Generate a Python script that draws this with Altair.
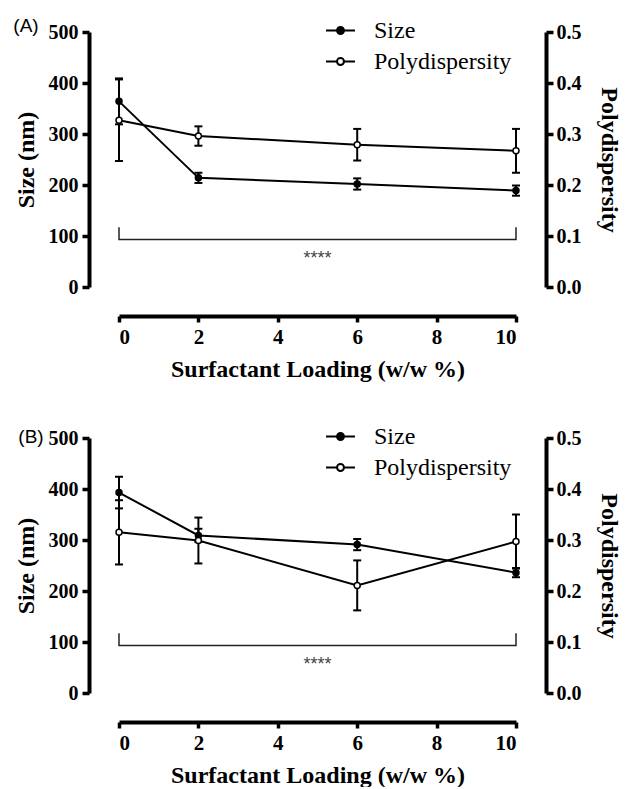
import altair as alt
import pandas as pd

# ---- data ----
loading = [0, 2, 6, 10]
x_ticks = [0, 2, 4, 6, 8, 10]
size_ticks = [0, 100, 200, 300, 400, 500]
pdi_ticks = [0.0, 0.1, 0.2, 0.3, 0.4, 0.5]

A_size = [364, 214, 202, 189]
A_size_err = [45, 10, 11, 10]
A_pdi = [0.327, 0.296, 0.279, 0.267]
A_pdi_err = [0.080, 0.019, 0.031, 0.043]

B_size = [393, 309, 291, 236]
B_size_err = [31, 13, 11, 9]
B_pdi = [0.315, 0.299, 0.211, 0.297]
B_pdi_err = [0.063, 0.045, 0.049, 0.053]

bracket_x = [0, 0, 10, 10]
bracket_y = [117, 93, 93, 117]
stars_x = [5]
stars_y = [55]
stars_text = ["****"]

series_names = ["Size", "Polydispersity"]

SERIF = "Liberation Serif, Times New Roman, serif"
SANS = "Liberation Sans, Arial, sans-serif"

LEGEND_PATH = ("M-1,0H-0.24M0.24,0H1"
               "M-0.24,0A0.24,0.24 0 1,0 0.24,0A0.24,0.24 0 1,0 -0.24,0Z")

fill_scale = alt.Scale(domain=series_names, range=["black", "white"])


def make_legend():
    return alt.Legend(
        orient="none", legendX=206, legendY=-17, title=None,
        symbolType=LEGEND_PATH, symbolSize=841, symbolStrokeColor="black",
        symbolStrokeWidth=2, labelFont=SERIF, labelFontSize=24,
        labelFontWeight="normal", labelColor="black", labelOffset=18,
        rowPadding=3,
    )


def panel(label, size, size_err, pdi, pdi_err, lab_dx, lab_dy):
    sdf = pd.DataFrame({
        "x": loading, "y": size,
        "lo": [v - e for v, e in zip(size, size_err)],
        "hi": [v + e for v, e in zip(size, size_err)],
        "series": "Size",
    })
    pdf = pd.DataFrame({
        "x": loading, "y": pdi,
        "lo": [v - e for v, e in zip(pdi, pdi_err)],
        "hi": [v + e for v, e in zip(pdi, pdi_err)],
        "series": "Polydispersity",
    })
    bdf = pd.DataFrame({"x": bracket_x, "y": bracket_y, "i": list(range(len(bracket_x)))})
    tdf = pd.DataFrame({"x": stars_x, "y": stars_y, "t": stars_text})
    ldf = pd.DataFrame({"t": [label]})

    xs = alt.Scale(domain=[0, 10], nice=False, zero=False)
    ys = alt.Scale(domain=[0, 500], nice=False)
    ps = alt.Scale(domain=[0, 0.5], nice=False)

    x_axis = alt.Axis(values=x_ticks, title="Surfactant Loading (w/w %)", offset=29,
                      labelFontSize=21, tickSize=6, labelPadding=4, titlePadding=10)
    s_axis = alt.Axis(values=size_ticks, title="Size (nm)", offset=30, orient="left",
                      tickSize=7, labelPadding=4, titlePadding=10)
    p_axis = alt.Axis(values=pdi_ticks, format=".1f", title="Polydispersity", offset=30,
                      orient="right", tickSize=7, labelPadding=3, titlePadding=15)

    X = alt.X("x:Q", scale=xs, axis=x_axis)

    def SY(f):
        return alt.Y(f, type="quantitative", scale=ys, axis=s_axis)

    def PY(f):
        return alt.Y(f, type="quantitative", scale=ps, axis=p_axis)

    # ---- Size layer (left axis) ----
    sb = alt.Chart(sdf)
    s_line = sb.mark_line(color="black", strokeWidth=2).encode(x=X, y=SY("y"))
    s_rule = sb.mark_rule(color="black", strokeWidth=2).encode(x=X, y=SY("lo"), y2="hi:Q")
    s_cap_hi = sb.mark_rule(color="black", strokeWidth=2, xOffset=-4, x2Offset=4).encode(
        x=X, x2="x:Q", y=SY("hi"))
    s_cap_lo = sb.mark_rule(color="black", strokeWidth=2, xOffset=-4, x2Offset=4).encode(
        x=X, x2="x:Q", y=SY("lo"))
    s_pt = sb.mark_circle(size=36, stroke="black", strokeWidth=1.5, opacity=1).encode(
        x=X, y=SY("y"),
        fill=alt.Fill("series:N", scale=fill_scale, legend=make_legend()))
    bracket = alt.Chart(bdf).mark_line(color="#222", strokeWidth=1.5).encode(
        x=X, y=SY("y"), order="i:Q")
    stars = alt.Chart(tdf).mark_text(font=SANS, fontSize=18, color="#444",
                                      baseline="middle").encode(
        x=X, y=SY("y"), text="t:N")
    lab = alt.Chart(ldf).mark_text(font=SANS, fontSize=19, color="black",
                                    align="center", baseline="middle").encode(
        x=alt.value(lab_dx), y=alt.value(lab_dy), text="t:N")

    size_layer = alt.layer(s_line, bracket, stars, s_rule, s_cap_hi, s_cap_lo, s_pt, lab)

    # ---- Polydispersity layer (right axis) ----
    pb = alt.Chart(pdf)
    p_line = pb.mark_line(color="black", strokeWidth=2).encode(x=X, y=PY("y"))
    p_rule = pb.mark_rule(color="black", strokeWidth=2).encode(x=X, y=PY("lo"), y2="hi:Q")
    p_cap_hi = pb.mark_rule(color="black", strokeWidth=2, xOffset=-4, x2Offset=4).encode(
        x=X, x2="x:Q", y=PY("hi"))
    p_cap_lo = pb.mark_rule(color="black", strokeWidth=2, xOffset=-4, x2Offset=4).encode(
        x=X, x2="x:Q", y=PY("lo"))
    p_pt = pb.mark_circle(size=36, stroke="black", strokeWidth=1.5, opacity=1).encode(
        x=X, y=PY("y"),
        fill=alt.Fill("series:N", scale=fill_scale, legend=make_legend()))

    pdi_layer = alt.layer(p_line, p_rule, p_cap_hi, p_cap_lo, p_pt)

    return alt.layer(size_layer, pdi_layer).resolve_scale(y="independent").properties(
        width=397, height=255)


pA = panel("(A)", A_size, A_size_err, A_pdi, A_pdi_err, -93, -6)
pB = panel("(B)", B_size, B_size_err, B_pdi, B_pdi_err, -88, -1)

chart = alt.vconcat(pA, pB, spacing=40).resolve_scale(
    fill="independent"
).resolve_legend(fill="independent").properties(
    padding={"left": 13, "top": 15, "right": 0, "bottom": 0}
).configure_view(stroke=None).configure_axis(
    grid=False,
    domainColor="black", domainWidth=4,
    tickColor="black", tickWidth=3.5,
    labelFont=SERIF, labelFontWeight="bold", labelFontSize=20,
    labelColor="black",
    titleFont=SERIF, titleFontWeight="bold", titleFontSize=24,
    titleColor="black",
)

chart.save("out.html", embed_options={"renderer": "svg", "actions": False})
